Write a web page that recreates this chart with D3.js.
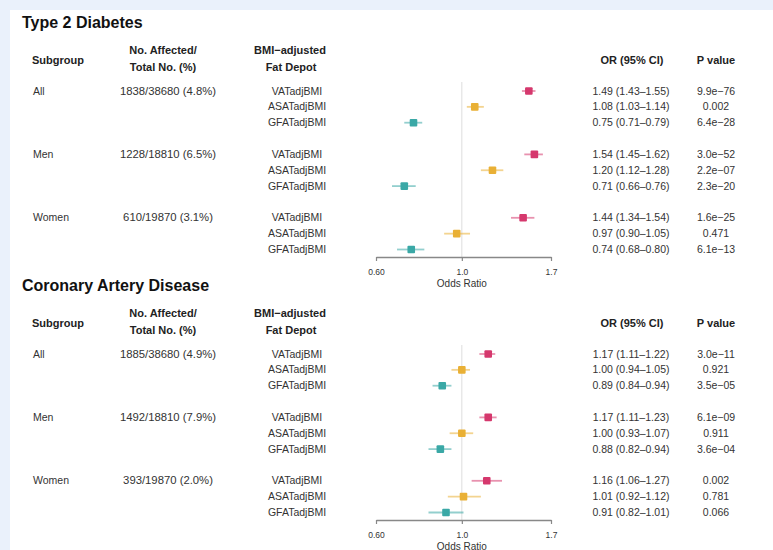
<!DOCTYPE html>
<html>
<head>
<meta charset="utf-8">
<script src="https://cdn.jsdelivr.net/npm/d3@7"></script>
<style>
  html, body { margin: 0; padding: 0; background: #eaf1fb; }
  svg { display: block; font-family: "Liberation Sans", Arial, sans-serif; }
</style>
</head>
<body>
<div id="chart"></div>
<script>
var WIDTH = 773;
var HEIGHT = 550;

var diseases = ["Type 2 Diabetes", "Coronary Artery Disease"];
var subgroups = ["All", "Men", "Women"];
var depots = ["VATadjBMI", "ASATadjBMI", "GFATadjBMI"];
var depotColors = ["#d5386d", "#e9b035", "#3aa8a6"];

var affected = [
    ["1838/38680 (4.8%)", "1228/18810 (6.5%)", "610/19870 (3.1%)"],
    ["1885/38680 (4.9%)", "1492/18810 (7.9%)", "393/19870 (2.0%)"]
];

// odds ratios, per disease, subgroup-major then depot
var oddsRatio = [
    [1.49, 1.08, 0.75, 1.54, 1.20, 0.71, 1.44, 0.97, 0.74],
    [1.17, 1.00, 0.89, 1.17, 1.00, 0.88, 1.16, 1.01, 0.91]
];
var ciLow = [
    [1.43, 1.03, 0.71, 1.45, 1.12, 0.66, 1.34, 0.90, 0.68],
    [1.11, 0.94, 0.84, 1.11, 0.93, 0.82, 1.06, 0.92, 0.82]
];
var ciHigh = [
    [1.55, 1.14, 0.79, 1.62, 1.28, 0.76, 1.54, 1.05, 0.80],
    [1.22, 1.05, 0.94, 1.23, 1.07, 0.94, 1.27, 1.12, 1.01]
];
var pValues = [
    ["9.9e\u221276", "0.002", "6.4e\u221228", "3.0e\u221252", "2.2e\u221207", "2.3e\u221220", "1.6e\u221225", "0.471", "6.1e\u221213"],
    ["3.0e\u221211", "0.921", "3.5e\u221205", "6.1e\u221209", "0.911", "3.6e\u221204", "0.002", "0.781", "0.066"]
];
var axisTicks = [0.60, 1.0, 1.7];
var tickLabels = ["0.60", "1.0", "1.7"];

var panelTop = [28, 291];
var ROW_STEP = 15.85;

var svg = d3.select("#chart").append("svg")
            .attr("width", WIDTH)
            .attr("height", HEIGHT);

svg.append("rect")
   .attr("x", 10).attr("y", 10)
   .attr("width", WIDTH).attr("height", HEIGHT)
   .attr("fill", "#fff");

var x = d3.scaleLog().domain([0.6, 1.7]).range([376, 551]);

function fmt(v) { return v.toFixed(2); }

function drawPanel(k)
{
    var y0 = panelTop[k];
    var g = svg.append("g");
    var rowY = function(i) { return y0 + 63 + (Math.floor(i / 3) * 4 + i % 3) * ROW_STEP; };
    var axisY = rowY(8) + 7.5;

    g.append("text")
     .attr("x", 22).attr("y", y0)
     .attr("font-size", 16).attr("font-weight", "bold").attr("fill", "#111")
     .text(diseases[k]);

    var hdr = g.append("g")
               .attr("font-size", 11).attr("font-weight", "bold")
               .attr("fill", "#222").attr("text-anchor", "middle");
    hdr.append("text").attr("x", 58).attr("y", y0 + 35.5).text("Subgroup");
    hdr.append("text").attr("x", 163).attr("y", y0 + 26).text("No. Affected/");
    hdr.append("text").attr("x", 163).attr("y", y0 + 43).text("Total No. (%)");
    hdr.append("text").attr("x", 290).attr("y", y0 + 26).text("BMI\u2212adjusted");
    hdr.append("text").attr("x", 291).attr("y", y0 + 43).text("Fat Depot");
    hdr.append("text").attr("x", 632).attr("y", y0 + 36).text("OR (95% CI)");
    hdr.append("text").attr("x", 716).attr("y", y0 + 36).text("P value");

    var body = g.append("g").attr("font-size", 10.5).attr("fill", "#333");

    body.selectAll(".sub")
        .data(subgroups)
        .enter().append("text")
        .attr("x", 33)
        .attr("y", function(d, i) { return rowY(i * 3) + 3.5; })
        .text(function(d) { return d; });

    body.selectAll(".cnt")
        .data(affected[k])
        .enter().append("text")
        .attr("x", 168).attr("text-anchor", "middle")
        .attr("font-size", 11.3)
        .attr("y", function(d, i) { return rowY(i * 3) + 3.5; })
        .text(function(d) { return d; });

    var rows = d3.range(9).map(function(i) {
        return {
            depot: i % 3,
            or: oddsRatio[k][i],
            lo: ciLow[k][i],
            hi: ciHigh[k][i],
            p: pValues[k][i],
            y: rowY(i)
        };
    });

    body.selectAll(".dep")
        .data(rows)
        .enter().append("text")
        .attr("x", 297).attr("text-anchor", "middle")
        .attr("y", function(d) { return d.y + 3.5; })
        .text(function(d) { return depots[d.depot]; });

    body.selectAll(".orci")
        .data(rows)
        .enter().append("text")
        .attr("x", 631).attr("text-anchor", "middle")
        .attr("y", function(d) { return d.y + 3.5; })
        .text(function(d) { return fmt(d.or) + " (" + fmt(d.lo) + "\u2013" + fmt(d.hi) + ")"; });

    body.selectAll(".pv")
        .data(rows)
        .enter().append("text")
        .attr("x", 716).attr("text-anchor", "middle")
        .attr("y", function(d) { return d.y + 3.5; })
        .text(function(d) { return d.p; });

    // reference line at OR = 1
    g.append("line")
     .attr("x1", x(1)).attr("x2", x(1))
     .attr("y1", rowY(0) - 9).attr("y2", axisY)
     .attr("stroke", "#ddd").attr("stroke-width", 1);

    g.selectAll(".ci")
     .data(rows)
     .enter().append("line")
     .attr("x1", function(d) { return x(d.lo); })
     .attr("x2", function(d) { return x(d.hi); })
     .attr("y1", function(d) { return d.y; })
     .attr("y2", function(d) { return d.y; })
     .attr("stroke", function(d) { return depotColors[d.depot]; })
     .attr("stroke-opacity", 0.55)
     .attr("stroke-width", 1.8);

    g.selectAll(".pt")
     .data(rows)
     .enter().append("rect")
     .attr("x", function(d) { return x(d.or) - 3.8; })
     .attr("y", function(d) { return d.y - 3.8; })
     .attr("width", 7.6).attr("height", 7.6)
     .attr("rx", 1)
     .attr("fill", function(d) { return depotColors[d.depot]; });

    var axis = d3.axisBottom(x)
                 .tickValues(axisTicks)
                 .tickFormat(function(d, i) { return tickLabels[i]; })
                 .tickSize(4)
                 .tickSizeOuter(0);

    var ax = g.append("g")
              .attr("transform", "translate(0," + axisY + ")")
              .call(axis);
    ax.select(".domain").attr("stroke", "#888").attr("stroke-width", 1.5);
    ax.selectAll(".tick line").attr("stroke", "#888").attr("stroke-width", 1.2);
    ax.selectAll(".tick text")
      .attr("font-size", 8.5).attr("fill", "#333").attr("y", 12)
      .attr("font-family", "Liberation Sans, Arial, sans-serif");

    g.append("text")
     .attr("x", x(1)).attr("y", axisY + 30)
     .attr("text-anchor", "middle")
     .attr("font-size", 10).attr("fill", "#333")
     .text("Odds Ratio");
}

drawPanel(0);
drawPanel(1);
</script>
</body>
</html>
